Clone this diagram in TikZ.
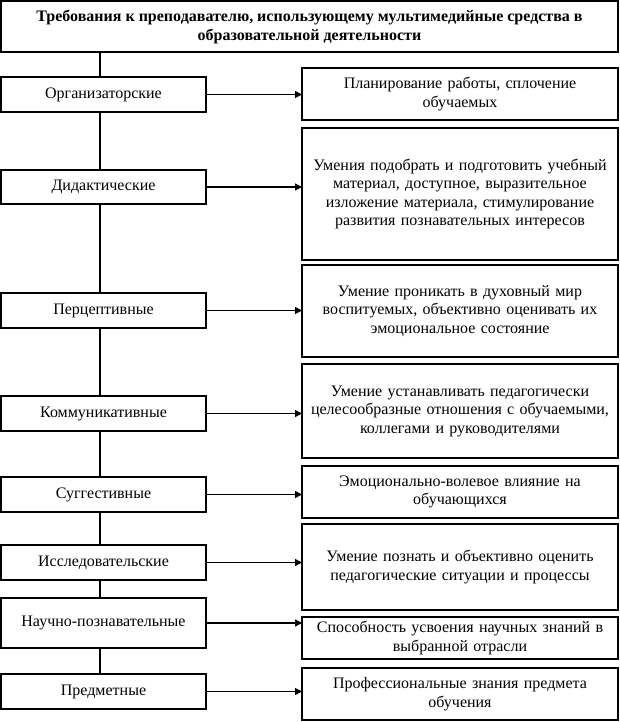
\documentclass[tikz,border=0pt]{standalone}
\usepackage{fontspec}
\setmainfont{Liberation Serif}
\usetikzlibrary{arrows.meta}
\begin{document}
\begin{tikzpicture}[x=1pt,y=-1pt,
  box/.style={draw=black,line width=1.2pt,fill=white,rectangle,outer sep=0pt,inner sep=2pt,align=center,font=\fontsize{16}{18.5}\selectfont},
  lbox/.style={box,minimum width=205pt},
  rbox/.style={box,minimum width=316pt,text width=310pt},
  conn/.style={line width=1.2pt},
  arr/.style={line width=1.2pt,-{Triangle[length=7pt,width=7pt]}}]
\useasboundingbox (0,0) rectangle (619,722);
% title
\node[box,minimum width=617pt,minimum height=51pt,font=\bfseries\fontsize{16}{19}\selectfont] (t) at (309.5,26.5)
  {Требования к преподавателю, использующему мультимедийные средства в\\образовательной деятельности};
% left boxes
\node[lbox,minimum height=35pt] (l1) at (103.5,94.5) {Организаторские};
\node[lbox,minimum height=34pt] (l2) at (103.5,187) {Дидактические};
\node[lbox,minimum height=35pt] (l3) at (103.5,310.5) {Перцептивные};
\node[lbox,minimum height=35pt] (l4) at (103.5,413.5) {Коммуникативные};
\node[lbox,minimum height=35pt] (l5) at (103.5,494.5) {Суггестивные};
\node[lbox,minimum height=35pt] (l6) at (103.5,562.5) {Исследовательские};
\node[lbox,minimum height=50pt] (l7) at (103.5,623) {Научно-познавательные};
\node[lbox,minimum height=35pt] (l8) at (103.5,691.5) {Предметные};
% right boxes
\node[rbox,minimum height=52pt] (r1) at (460,94) {Планирование работы, сплочение\\обучаемых};
\node[rbox,minimum height=132pt] (r2) at (460,194) {Умения подобрать и подготовить учебный\\материал, доступное, выразительное\\изложение материала, стимулирование\\развития познавательных интересов};
\node[rbox,minimum height=92pt] (r3) at (460,311) {Умение проникать в духовный мир\\воспитуемых, объективно оценивать их\\эмоциональное состояние};
\node[rbox,minimum height=94pt] (r4) at (460,411) {Умение устанавливать педагогически\\целесообразные отношения с обучаемыми,\\коллегами и руководителями};
\node[rbox,minimum height=52pt] (r5) at (460,492) {Эмоционально-волевое влияние на\\обучающихся};
\node[rbox,minimum height=86pt,text depth=22pt] (r6) at (460,567) {Умение познать и объективно оценить\\педагогические ситуации и процессы};
\node[rbox,minimum height=42pt] (r7) at (460,638) {Способность усвоения научных знаний в\\выбранной отрасли};
\node[rbox,minimum height=52pt] (r8) at (460,694) {Профессиональные знания предмета\\обучения};
% vertical trunk
\coordinate (vx) at (100,0);
\draw[conn] (t.south -| vx) -- (l1.north -| vx);
\draw[conn] (l1.south -| vx) -- (l2.north -| vx);
\draw[conn] (l2.south -| vx) -- (l3.north -| vx);
\draw[conn] (l3.south -| vx) -- (l4.north -| vx);
\draw[conn] (l4.south -| vx) -- (l5.north -| vx);
\draw[conn] (l5.south -| vx) -- (l6.north -| vx);
\draw[conn] (l6.south -| vx) -- (l7.north -| vx);
\draw[conn] (l7.south -| vx) -- (l8.north -| vx);
% arrows
\foreach \i in {1,...,8}{
  \draw[arr] (l\i.east) -- (l\i.east -| r\i.west);
}
\end{tikzpicture}
\end{document}
